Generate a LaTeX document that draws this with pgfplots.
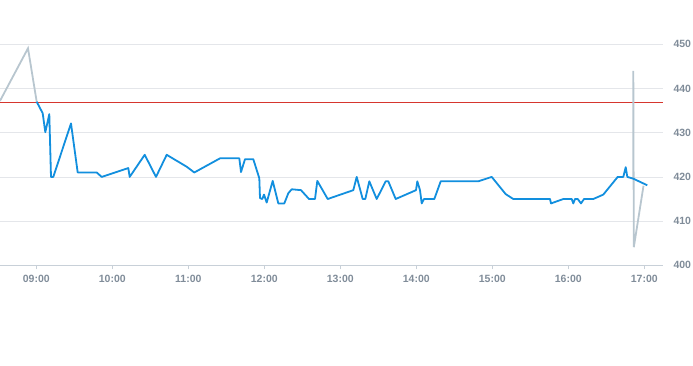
\documentclass[border=0pt]{standalone}
\usepackage{fontspec}
\setmainfont{Liberation Sans}
\usepackage{pgfplots}
\pgfplotsset{compat=1.18}
\definecolor{bluel}{RGB}{18,143,222}
\definecolor{grayl}{RGB}{184,198,207}
\definecolor{redl}{RGB}{214,54,46}
\definecolor{gridc}{RGB}{228,230,234}
\definecolor{axc}{RGB}{200,208,216}
\definecolor{lblc}{RGB}{128,140,153}
\begin{document}
\begin{tikzpicture}[x=1pt,y=1pt]
\path[use as bounding box] (0,0) rectangle (693,365);
\begin{axis}[
  at={(0pt,99.7pt)}, anchor=south west,
  scale only axis, width=663pt, height=221pt,
  xmin=8.5224, xmax=17.246, ymin=400, ymax=450,
  axis line style={draw=none},
  axis x line*=bottom,
  x axis line style={draw=axc, line width=0.8pt},
  axis y line*=right,
  y axis line style={draw=none},
  xtick={9,10,11,12,13,14,15,16,17},
  xticklabels={09:00,10:00,11:00,12:00,13:00,14:00,15:00,16:00,17:00},
  ytick={400,410,420,430,440,450},
  yticklabels={400,410,420,430,440,450},
  ymajorgrids, grid style={draw=gridc, line width=0.8pt},
  x tick style={draw=axc, line width=0.8pt},
  major tick length=4pt, xtick align=outside,
  y tick style={draw=none},
  tick label style={font=\fontsize{10.5}{12}\selectfont\bfseries, text=lblc},
  xticklabel style={yshift=-2.5pt},
  yticklabel style={anchor=west, xshift=7pt},
  clip=false,
]
\addplot[draw=redl, line width=0.9pt] coordinates {(8.5224,436.9) (17.246,436.9)};
\addplot[draw=grayl, line width=1.8pt] coordinates {
(8.5224,437.2) (8.8908,449.1) (9.0053,437.0)};
\addplot[draw=grayl, line width=1.8pt] coordinates {
(16.8553,419.6) (16.8553,444.0) (16.8618,404.1) (16.9895,418.0)};
\addplot[draw=bluel, line width=1.8pt, line join=round] coordinates {
(9.0053,437.0) (9.0842,434.4) (9.1184,430.1) (9.1711,434.2) (9.1934,420.0)
(9.2237,420.0) (9.4566,432.1) (9.5447,421.0) (9.7947,421.0) (9.8605,420.0)
(10.2105,422.0) (10.2289,420.0) (10.4263,425.0) (10.575,420.0) (10.7158,425.0)
(10.9789,422.3) (11.0789,421.0) (11.4171,424.2) (11.6711,424.2) (11.6934,421.1)
(11.7461,424.0) (11.8553,424.0) (11.9342,419.7) (11.9434,415.2) (11.9737,415.0)
(11.9961,416.0) (12.0316,414.2) (12.1105,419.1) (12.1842,414.0) (12.2632,414.0)
(12.3158,416.3) (12.3605,417.2) (12.4829,417.0) (12.5882,415.0) (12.6671,415.0)
(12.6974,419.1) (12.8342,415.0) (13.1711,417.0) (13.2158,420.0) (13.2947,415.0)
(13.3289,415.0) (13.3816,419.0) (13.4789,415.0) (13.5974,419.0) (13.6316,419.0)
(13.7289,415.0) (13.9961,417.0) (14.0132,419.0) (14.0487,417.0) (14.0711,414.0)
(14.1013,415.0) (14.2368,415.0) (14.3211,419.0) (14.8158,419.0) (14.9921,420.0)
(15.1763,416.1) (15.2763,415.0) (15.7592,415.0) (15.7724,414.0) (15.9342,415.0)
(16.0447,415.0) (16.0658,414.0) (16.0882,415.0) (16.1237,415.0) (16.1671,414.0)
(16.2066,415.0) (16.3289,415.0) (16.4605,416.0) (16.6500,420.0) (16.7237,420.0)
(16.7553,422.2) (16.7763,420.0) (16.8553,419.6) (17.0395,418.1)};
\end{axis}
\end{tikzpicture}
\end{document}
